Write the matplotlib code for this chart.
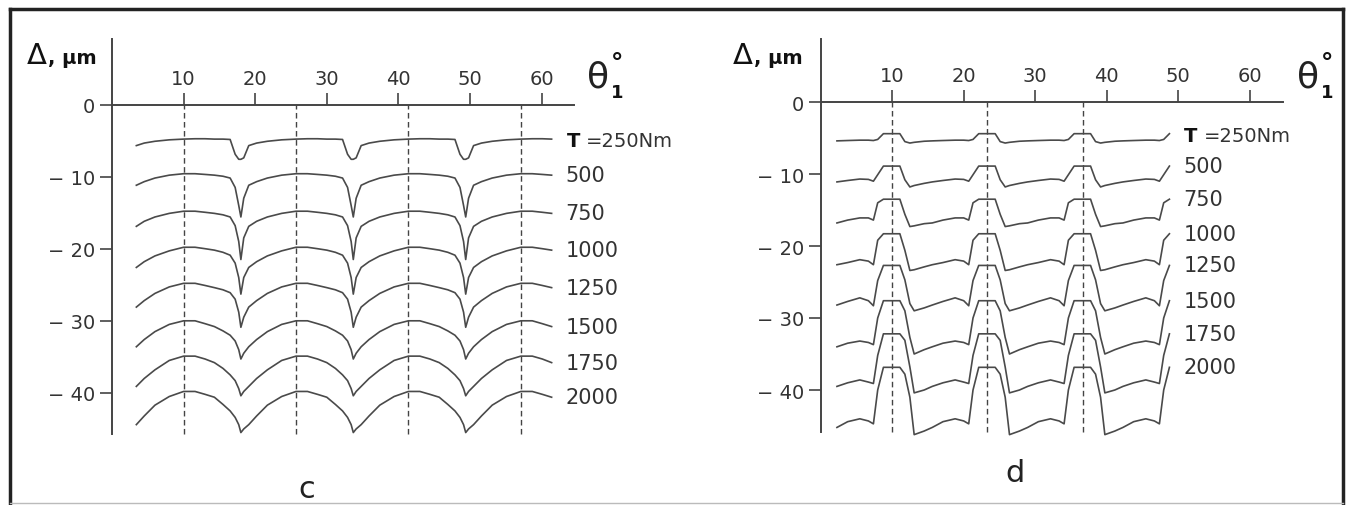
import matplotlib
matplotlib.use('Agg')
import matplotlib.pyplot as plt
from matplotlib.lines import Line2D

plt.rcParams['font.family'] = ['DejaVu Sans']

# ---------------- data ----------------
torque_labels = ['=250Nm', '500', '750', '1000', '1250', '1500', '1750', '2000']
x_ticks = [10, 20, 30, 40, 50, 60]
y_ticks = [0, -10, -20, -30, -40]
y_tick_labels = ['0', '\u2212 10', '\u2212 20', '\u2212 30', '\u2212 40']

# panel c : curves repeat around each dashed line (offsets in degrees)
c_dashed = [10.0, 25.7, 41.4, 57.1]
c_start, c_end = 3.4, 61.4
c_knots = [-7.7, -7.3, -6.6, -5.5, -4.0, -2.0, 0.0, 1.6, 3.0, 4.3, 5.5, 6.5, 7.2, 7.7]
c_250 = [-7.6, -7.4, -5.7, -5.35, -5.1, -4.9, -4.8, -4.75, -4.75, -4.8, -4.8, -4.85, -6.9, -7.6]
c_500 = [-15.6, -13.0, -11.2, -10.7, -10.2, -9.8, -9.6, -9.6, -9.7, -9.8, -9.95, -10.2, -11.5, -14.0]
c_750 = [-21.5, -18.5, -16.9, -16.2, -15.6, -15.1, -14.8, -14.8, -14.95, -15.1, -15.3, -15.6, -16.8, -19.0]
c_1000 = [-26.3, -24.0, -22.6, -21.8, -21.0, -20.3, -19.8, -19.8, -20.0, -20.2, -20.5, -20.9, -22.0, -24.0]
c_1250 = [-30.9, -29.5, -28.1, -27.2, -26.2, -25.3, -24.8, -24.8, -25.1, -25.4, -25.7, -26.1, -27.0, -28.8]
c_1500 = [-35.3, -34.5, -33.6, -32.6, -31.5, -30.5, -30.0, -30.0, -30.4, -30.8, -31.4, -32.0, -32.8, -34.0]
c_1750 = [-40.4, -39.8, -39.1, -38.0, -36.8, -35.5, -34.9, -34.9, -35.3, -35.8, -36.6, -37.5, -38.3, -39.4]
c_2000 = [-45.5, -45.0, -44.4, -43.2, -41.7, -40.5, -39.8, -39.8, -40.2, -40.6, -41.6, -42.5, -43.4, -44.4]

# panel d
d_centers = [10.0, 23.33, 36.67, 50.0]
d_dashed = [10.0, 23.33, 36.67]
d_start, d_end = 2.3, 48.8
d_knots = [-7.7, -6.2, -4.5, -3.3, -2.6, -2.0, -1.2, 1.1, 1.8, 2.5, 3.1, 4.5]
d_250 = [-5.4, -5.35, -5.3, -5.3, -5.35, -5.2, -4.4, -4.4, -5.5, -5.7, -5.6, -5.45]
d_500 = [-11.1, -10.9, -10.7, -10.75, -11.0, -10.1, -8.9, -8.9, -10.8, -11.8, -11.6, -11.3]
d_750 = [-16.8, -16.4, -16.1, -16.1, -16.4, -14.0, -13.5, -13.5, -15.6, -17.3, -17.2, -16.9]
d_1000 = [-22.6, -22.3, -21.9, -22.1, -22.6, -19.2, -18.3, -18.3, -20.6, -23.4, -23.3, -22.9]
d_1250 = [-28.2, -27.7, -27.2, -27.6, -28.3, -24.8, -22.7, -22.7, -24.7, -28.0, -29.0, -28.6]
d_1500 = [-34.0, -33.5, -33.2, -33.4, -33.7, -30.0, -27.6, -27.6, -29.0, -32.7, -35.0, -34.4]
d_1750 = [-39.5, -39.0, -38.6, -38.9, -39.1, -35.2, -32.2, -32.2, -33.1, -36.8, -40.4, -40.0]
d_2000 = [-45.2, -44.4, -44.0, -44.3, -44.7, -40.0, -36.85, -36.85, -37.8, -41.0, -46.2, -45.7]

c_curves = [c_250, c_500, c_750, c_1000, c_1250, c_1500, c_1750, c_2000]
d_curves = [d_250, d_500, d_750, d_1000, d_1250, d_1500, d_1750, d_2000]

# ---------------- drawing ----------------
W, H = 1351, 506
fig = plt.figure(figsize=(W / 100, H / 100), dpi=100)
fig.patch.set_facecolor('white')

LINE = '#4a4a4a'
TXT = '#333333'


def fx(px):
    return px / W


def fy(py):
    return 1 - py / H


def make_axes(px_x0, sx, px_y0, sy, xlim, ylim):
    left = px_x0 + xlim[0] * sx
    right = px_x0 + xlim[1] * sx
    top = px_y0 - ylim[1] * sy
    bottom = px_y0 - ylim[0] * sy
    ax = fig.add_axes([left / W, 1 - bottom / H, (right - left) / W, (bottom - top) / H])
    ax.set_xlim(*xlim)
    ax.set_ylim(*ylim)
    ax.patch.set_alpha(0)
    return ax


def tile(centers, knots, vals, start, end):
    xs, ys = [], []
    for d in centers:
        for k, v in zip(knots, vals):
            x = d + k
            if start - 1e-6 <= x <= end + 1e-6:
                xs.append(x)
                ys.append(v)
    return xs, ys


def style_axes(ax, xmax, ytop, ybot):
    ax.spines['right'].set_visible(False)
    ax.spines['bottom'].set_visible(False)
    for s in ('top', 'left'):
        ax.spines[s].set_color('#444444')
        ax.spines[s].set_linewidth(1.4)
    ax.spines['top'].set_position(('data', 0))
    ax.spines['top'].set_bounds(0, xmax)
    ax.spines['left'].set_position(('data', 0))
    ax.spines['left'].set_bounds(ybot, ytop)
    ax.xaxis.set_ticks_position('top')
    ax.set_xticks(x_ticks)
    ax.set_xticklabels([str(t) for t in x_ticks])
    ax.set_yticks(y_ticks)
    ax.set_yticklabels(y_tick_labels)
    ax.tick_params(axis='x', direction='out', length=9, width=1.2, pad=3,
                   labelsize=14, colors='#444444', labelcolor=TXT)
    ax.tick_params(axis='y', direction='out', length=9, width=1.2, pad=3,
                   labelsize=14, colors='#444444', labelcolor=TXT)


panels = [
    dict(ax=make_axes(112, 7.16, 105.5, 7.21, (-2, 68), (-47, 10)),
         centers=c_dashed, dashed=c_dashed, knots=c_knots, curves=c_curves,
         start=c_start, end=c_end, xmax=64.5, ytop=9.1, ybot=-45.7),
    dict(ax=make_axes(820.5, 7.15, 103, 7.2, (-2, 68), (-47, 10)),
         centers=d_centers, dashed=d_dashed, knots=d_knots, curves=d_curves,
         start=d_start, end=d_end, xmax=64.7, ytop=8.75, ybot=-45.8),
]

for p in panels:
    ax = p['ax']
    style_axes(ax, p['xmax'], p['ytop'], p['ybot'])
    ax.vlines(p['dashed'], p['ybot'], 0, colors='#444444', linewidth=1.0,
              linestyles=(0, (4, 2.5)))
    for i, vals in enumerate(p['curves']):
        xs, ys = tile(p['centers'], p['knots'], vals, p['start'], p['end'])
        ax.plot(xs, ys, color=LINE, linewidth=1.2, solid_joinstyle='round')
        if i == 0:
            ax.annotate(r'$\mathbf{T}$', (xs[-1], ys[-1]), xytext=(10, -1),
                        textcoords='offset points', va='center', ha='left',
                        fontsize=14, color='#111111', annotation_clip=False)
            ax.annotate(torque_labels[i], (xs[-1], ys[-1]), xytext=(25, -1),
                        textcoords='offset points', va='center', ha='left',
                        fontsize=14, color=TXT, annotation_clip=False)
        else:
            ax.annotate(torque_labels[i], (xs[-1], ys[-1]), xytext=(10, 0),
                        textcoords='offset points', va='center', ha='left',
                        fontsize=15, color=TXT, annotation_clip=False)

# axis titles
for dx_px, th_px in ((27, 587), (733, 1297)):
    fig.text(fx(dx_px), fy(56), '\u0394', fontsize=21, color='#111111',
             ha='left', va='center')
    fig.text(fx(dx_px + 21), fy(59), ', \u03bcm', fontsize=14, color='#111111',
             ha='left', va='center', fontweight='bold')
    fig.text(fx(th_px), fy(78), '\u03b8', fontsize=26, color='#222222',
             ha='left', va='center')
    fig.text(fx(th_px + 24), fy(93), '1', fontsize=13, color='#111111',
             ha='left', va='center', fontweight='bold')
    fig.text(fx(th_px + 24), fy(64), '\u00b0', fontsize=18, color='#111111',
             ha='left', va='center', fontweight='bold')

# panel letters
fig.text(fx(307), fy(490), 'c', fontsize=22, color='#222222', ha='center', va='center')
fig.text(fx(1015), fy(474), 'd', fontsize=22, color='#222222', ha='center', va='center')

# frame around the figure
frame = dict(color='#222222', linewidth=2.5, transform=fig.transFigure)
fig.add_artist(Line2D([fx(10), fx(1343)], [fy(10), fy(10)], **frame))
fig.add_artist(Line2D([fx(10), fx(10)], [fy(10), fy(506)], **frame))
fig.add_artist(Line2D([fx(1343), fx(1343)], [fy(10), fy(506)], **frame))
fig.add_artist(Line2D([fx(10), fx(1343)], [fy(504), fy(504)], color='#bbbbbb',
                      linewidth=1.0, transform=fig.transFigure))

fig.savefig('out.png', dpi=100, facecolor='white')
